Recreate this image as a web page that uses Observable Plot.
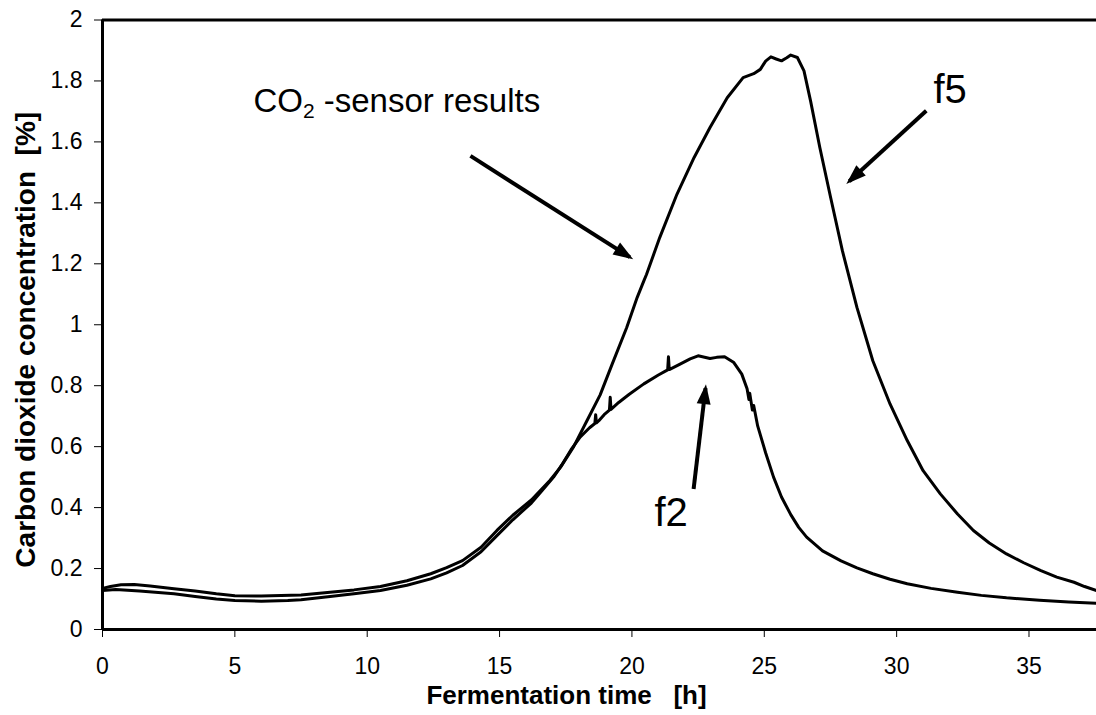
<!DOCTYPE html>
<html>
<head>
<meta charset="utf-8">
<script src="https://cdn.jsdelivr.net/npm/d3@7"></script>
<script src="https://cdn.jsdelivr.net/npm/@observablehq/plot@0.6"></script>
<style>
  html, body { margin: 0; padding: 0; background: #fff; }
  #chart svg { display: block; }
</style>
</head>
<body>
<div id="chart"></div>
<script>
// CO2 concentration in the off-gas of two fermentations (f5 and f2)
const f5Time = [0, 0.3, 0.7, 1.2, 1.8, 2.7, 3.5, 4.3, 5.0, 6.0,
  7.5, 8.6, 9.5, 10.5, 11.5, 12.4, 13.0, 13.6, 14.3, 14.9,
  15.5, 16.2, 16.9, 17.3, 17.8, 18.3, 18.8, 19.25, 19.8, 20.2,
  20.45, 20.55, 21.05, 21.7, 22.35, 22.95, 23.6, 24.2, 24.6, 24.85,
  25.05, 25.25, 25.45, 25.65, 25.85, 26.0, 26.25, 26.5, 26.75, 27.1,
  27.5, 27.95, 28.5, 29.1, 29.75, 30.4, 31.0, 31.65, 32.3, 32.9,
  33.5, 34.15, 34.8, 35.45, 36.05, 36.7, 37.1, 37.55];
const f5Conc = [0.135, 0.141, 0.147, 0.148, 0.143, 0.134, 0.126, 0.117, 0.111, 0.110,
  0.113, 0.122, 0.130, 0.141, 0.160, 0.183, 0.203, 0.226, 0.270, 0.325,
  0.375, 0.425, 0.489, 0.532, 0.600, 0.685, 0.770, 0.870, 0.990, 1.090,
  1.144, 1.165, 1.286, 1.428, 1.549, 1.647, 1.745, 1.811, 1.824, 1.838,
  1.865, 1.879, 1.872, 1.866, 1.876, 1.885, 1.877, 1.833, 1.734, 1.581,
  1.420, 1.243, 1.057, 0.882, 0.740, 0.620, 0.521, 0.445, 0.379, 0.325,
  0.284, 0.248, 0.219, 0.193, 0.172, 0.155, 0.141, 0.128];

const f2Time = [0, 0.5, 1.4, 2.7, 3.5, 4.3, 5.0, 6.0, 7.0, 7.5,
  8.6, 9.5, 10.5, 11.5, 12.4, 13.0, 13.6, 14.3, 14.9, 15.5,
  16.2, 16.6, 17.04, 17.35, 17.7, 18.05, 18.4, 18.6, 18.63, 18.66,
  18.75, 18.95, 19.15, 19.18, 19.21, 19.5, 19.9, 20.45, 21.0, 21.35,
  21.38, 21.41, 21.8, 22.2, 22.5, 22.95, 23.2, 23.5, 23.85, 24.15,
  24.35, 24.42, 24.45, 24.55, 24.6, 24.75, 25.05, 25.35, 25.65, 26.0,
  26.3, 26.6, 27.2, 27.9, 28.5, 29.1, 29.75, 30.4, 31.3, 32.3,
  33.2, 34.15, 35.4, 36.5, 37.55];
const f2Conc = [0.128, 0.131, 0.126, 0.117, 0.108, 0.100, 0.095, 0.093, 0.095, 0.098,
  0.108, 0.117, 0.128, 0.145, 0.166, 0.186, 0.210, 0.255, 0.308, 0.360,
  0.415, 0.455, 0.500, 0.540, 0.590, 0.632, 0.662, 0.676, 0.705, 0.678,
  0.685, 0.705, 0.720, 0.762, 0.722, 0.745, 0.772, 0.806, 0.835, 0.852,
  0.895, 0.853, 0.870, 0.888, 0.898, 0.889, 0.893, 0.895, 0.876, 0.838,
  0.790, 0.755, 0.775, 0.720, 0.735, 0.668, 0.580, 0.500, 0.435, 0.377,
  0.335, 0.303, 0.258, 0.225, 0.202, 0.183, 0.165, 0.150, 0.135, 0.122,
  0.112, 0.104, 0.096, 0.090, 0.086];

// axes
const xTicks = [0, 5, 10, 15, 20, 25, 30, 35];
const yTicks = [0, 0.2, 0.4, 0.6, 0.8, 1, 1.2, 1.4, 1.6, 1.8, 2];
const xTitle = "Fermentation time\u00a0\u00a0\u00a0[h]";
const yTitle = "Carbon dioxide concentration\u00a0\u00a0[%]";

// annotations (time in h, concentration in %)
const noteText = ["CO\u2082 -sensor results", "f5", "f2"];
const noteTime = [5.7, 31.39, 20.85];
const noteConc = [1.699, 1.729, 0.34];
const noteSize = [33, 40, 40];

const pointerFromTime = [13.90, 31.12, 22.33];
const pointerFromConc = [1.554, 1.702, 0.461];
const pointerToTime = [19.92, 28.21, 22.78];
const pointerToConc = [1.222, 1.471, 0.792];

const rows = [
  ...f5Time.map((t, i) => ({series: "f5", time: t, conc: f5Conc[i]})),
  ...f2Time.map((t, i) => ({series: "f2", time: t, conc: f2Conc[i]}))
];
const notes = noteText.map((text, i) => ({text, time: noteTime[i], conc: noteConc[i], size: noteSize[i]}));
const pointers = pointerFromTime.map((t, i) => ({
  t1: t, c1: pointerFromConc[i], t2: pointerToTime[i], c2: pointerToConc[i]
}));

const fmt = d => String(d);

const chart = Plot.plot({
  width: 1096,
  height: 715,
  marginLeft: 102,
  marginRight: 0,
  marginTop: 19.5,
  marginBottom: 86,
  style: {
    fontFamily: '"Liberation Sans", Arial, Helvetica, sans-serif',
    fontSize: "23px",
    color: "#000",
    background: "#fff",
    overflow: "visible"
  },
  x: {domain: [0, 37.55], ticks: xTicks, tickFormat: fmt, tickSize: 8, tickPadding: 20, label: null},
  y: {domain: [0, 2], ticks: yTicks, tickFormat: fmt, tickSize: 8, tickPadding: 12, label: null},
  marks: [
    Plot.line(rows, {x: "time", y: "conc", z: "series", stroke: "#000", strokeWidth: 3}),
    Plot.ruleY([0], {stroke: "#000", strokeWidth: 3}),
    Plot.ruleY([2], {stroke: "#000", strokeWidth: 3}),
    Plot.ruleX([0], {stroke: "#000", strokeWidth: 3}),
    Plot.link(pointers, {x1: "t1", y1: "c1", x2: "t2", y2: "c2", stroke: "#000", strokeWidth: 4, strokeLinecap: "butt"}),
    Plot.text(notes.filter(d => d.size === 33), {x: "time", y: "conc", text: "text", textAnchor: "start", lineAnchor: "bottom", fontSize: 33, fill: "#000"}),
    Plot.text(notes.filter(d => d.size === 40), {x: "time", y: "conc", text: "text", textAnchor: "start", lineAnchor: "bottom", fontSize: 40, fill: "#000"}),
    Plot.text([xTitle], {frameAnchor: "bottom", textAnchor: "middle", lineAnchor: "bottom", dx: -33, dy: 74, fontSize: 26, fontWeight: "bold", fill: "#000"}),
    Plot.text([yTitle], {frameAnchor: "left", textAnchor: "middle", rotate: -90, dx: -76, dy: 15, fontSize: 28, fontWeight: "bold", fill: "#000"})
  ]
});

const ns = "http://www.w3.org/2000/svg";

// filled arrowheads for the pointer links
const defs = document.createElementNS(ns, "defs");
const marker = document.createElementNS(ns, "marker");
marker.setAttribute("id", "pointer-head");
marker.setAttribute("viewBox", "-18 -8 24 16");
marker.setAttribute("markerWidth", "24");
marker.setAttribute("markerHeight", "16");
marker.setAttribute("refX", "0");
marker.setAttribute("refY", "0");
marker.setAttribute("orient", "auto");
marker.setAttribute("markerUnits", "userSpaceOnUse");
const head = document.createElementNS(ns, "path");
head.setAttribute("d", "M-16,-7L4,0L-16,7Z");
head.setAttribute("fill", "#000");
marker.appendChild(head);
defs.appendChild(marker);
chart.insertBefore(defs, chart.firstChild);
chart.querySelectorAll('g[aria-label="link"] path').forEach(p => p.setAttribute("marker-end", "url(#pointer-head)"));

// set the subscript of "CO2" as a lowered, smaller digit
chart.querySelectorAll('g[aria-label="text"] text').forEach(t => {
  const s = t.textContent;
  const k = s.indexOf("\u2082");
  if (k < 0) return;
  t.textContent = "";
  const a = document.createElementNS(ns, "tspan");
  a.textContent = s.slice(0, k);
  const sub = document.createElementNS(ns, "tspan");
  sub.textContent = "2";
  sub.setAttribute("font-size", "21");
  sub.setAttribute("dy", "6");
  const b = document.createElementNS(ns, "tspan");
  b.textContent = s.slice(k + 1);
  b.setAttribute("dy", "-6");
  t.append(a, sub, b);
});

document.getElementById("chart").appendChild(chart);
</script>
</body>
</html>
